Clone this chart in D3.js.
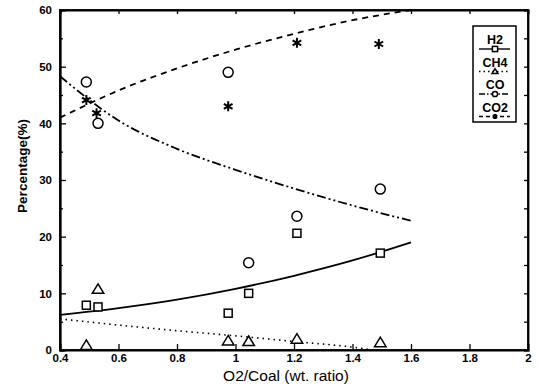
<!DOCTYPE html>
<html>
<head>
<meta charset="utf-8">
<script src="https://cdn.jsdelivr.net/npm/d3@7"></script>
<style>
  body { margin: 0; background: #fff; }
  svg { font-family: Arial, "Liberation Sans", sans-serif; }
</style>
</head>
<body>
<div id="chart"></div>
<script>
// measured points
var h2Pts  = [[0.49, 7.9], [0.53, 7.6], [0.975, 6.5], [1.045, 10.0], [1.21, 20.6], [1.495, 17.1]];
var ch4Pts = [[0.49, 0.8], [0.53, 10.7], [0.975, 1.6], [1.045, 1.5], [1.21, 1.9], [1.495, 1.3]];
var coPts  = [[0.49, 47.3], [0.53, 40.0], [0.975, 49.0], [1.045, 15.4], [1.21, 23.6], [1.495, 28.4]];
var co2Pts = [[0.49, 44.1], [0.525, 41.8], [0.975, 43.0], [1.21, 54.2], [1.49, 54.0]];

// fitted curves
var h2Fit  = [[0.4, 6.2], [0.6, 7.4], [0.8, 8.9], [1.0, 10.8], [1.2, 13.1], [1.4, 15.8], [1.6, 19.0]];
var ch4Fit = [[0.4, 5.5], [0.6, 4.4], [0.8, 3.4], [1.0, 2.5], [1.2, 1.5], [1.4, 0.5], [1.47, 0.0]];
var coFit  = [[0.4, 48.3], [0.6, 40.5], [0.8, 35.5], [1.0, 31.8], [1.2, 28.5], [1.4, 25.5], [1.6, 22.8]];
var co2Fit = [[0.4, 41.0], [0.6, 45.8], [0.8, 49.7], [1.0, 53.0], [1.2, 55.8], [1.4, 58.2], [1.6, 60.0]];

var xTicks = [0.4, 0.6, 0.8, 1, 1.2, 1.4, 1.6, 1.8, 2];
var yTicks = [0, 10, 20, 30, 40, 50, 60];
var legendNames = ["H2", "CH4", "CO", "CO2"];

var W = 539, H = 386;
var m = {left: 60, right: 11, top: 10, bottom: 36};

var x = d3.scaleLinear().domain([0.4, 2]).range([m.left, W - m.right]);
var y = d3.scaleLinear().domain([0, 60]).range([H - m.bottom, m.top]);

var svg = d3.select("#chart").append("svg")
    .attr("width", W)
    .attr("height", H);

// axes, ticks inward
svg.append("g")
    .attr("transform", "translate(0," + y(0) + ")")
    .call(d3.axisBottom(x).tickValues(xTicks).tickSize(-6).tickPadding(4)
      .tickFormat(function(d) { return d; }));
svg.append("g")
    .attr("transform", "translate(" + x(0.4) + ",0)")
    .call(d3.axisLeft(y).tickValues(yTicks).tickSize(-6).tickPadding(8));
svg.append("g")
    .attr("transform", "translate(" + x(0.4) + ",0)")
    .call(d3.axisLeft(y).tickValues(d3.range(5, 60, 10)).tickSize(-3).tickFormat(""));
svg.append("g")
    .attr("transform", "translate(" + x(2) + ",0)")
    .call(d3.axisRight(y).tickValues(d3.range(0, 61, 5)).tickSize(-4).tickFormat(""));
svg.append("g")
    .attr("transform", "translate(0," + y(60) + ")")
    .call(d3.axisTop(x).tickValues(xTicks).tickSize(-4).tickFormat(""));

svg.selectAll(".domain").attr("stroke-width", 1.8);
svg.selectAll(".tick line").attr("stroke-width", 1.3);
svg.selectAll(".tick text")
    .attr("font-size", 11.5)
    .attr("font-family", "Arial, 'Liberation Sans', sans-serif")
    .attr("font-weight", "bold")
    .attr("fill", "#000");

svg.append("rect")
    .attr("x", x(0.4)).attr("y", y(60))
    .attr("width", x(2) - x(0.4)).attr("height", y(0) - y(60))
    .attr("fill", "none").attr("stroke", "#000").attr("stroke-width", 1.8);

// labels
svg.append("text")
    .attr("x", 286).attr("y", 381)
    .attr("text-anchor", "middle").attr("font-size", 15.5)
    .text("O2/Coal (wt. ratio)");
svg.append("text")
    .attr("transform", "translate(27,166) rotate(-90)")
    .attr("text-anchor", "middle").attr("font-size", 13.5).attr("font-weight", "bold")
    .text("Percentage(%)");

// curves
var line = d3.line()
    .x(function(d) { return x(d[0]); })
    .y(function(d) { return y(d[1]); })
    .curve(d3.curveMonotoneX);

var plot = svg.append("g");
var styles = [
  {fit: h2Fit,  dash: null,            w: 1.8},
  {fit: ch4Fit, dash: "1.5,4",         w: 1.6},
  {fit: coFit,  dash: "9,3,2,3,2,3",   w: 1.8},
  {fit: co2Fit, dash: "6,5",           w: 1.8}
];
styles.forEach(function(s) {
  plot.append("path")
      .datum(s.fit)
      .attr("d", line)
      .attr("fill", "none")
      .attr("stroke", "#000")
      .attr("stroke-width", s.w)
      .attr("stroke-dasharray", s.dash);
});

// markers
function square(g, px, py, r) {
  g.append("rect").attr("x", px - r).attr("y", py - r).attr("width", 2 * r).attr("height", 2 * r)
    .attr("fill", "#fff").attr("stroke", "#000").attr("stroke-width", 1.5);
}
function tri(g, px, py, r) {
  g.append("path")
    .attr("d", "M" + px + "," + (py - r * 1.1) + "L" + (px + r * 1.15) + "," + (py + r * 0.8) + "L" + (px - r * 1.15) + "," + (py + r * 0.8) + "Z")
    .attr("fill", "#fff").attr("stroke", "#000").attr("stroke-width", 1.5);
}
function circ(g, px, py, r) {
  g.append("circle").attr("cx", px).attr("cy", py).attr("r", r)
    .attr("fill", "#fff").attr("stroke", "#000").attr("stroke-width", 1.5);
}
function star(g, px, py, r) {
  var d = "";
  for (var i = 0; i < 3; i++) {
    var a = Math.PI / 2 + i * Math.PI / 3;
    d += "M" + (px + r * Math.cos(a)) + "," + (py + r * Math.sin(a)) +
         "L" + (px - r * Math.cos(a)) + "," + (py - r * Math.sin(a));
  }
  g.append("path").attr("d", d).attr("stroke", "#000").attr("stroke-width", 2);
}

h2Pts.forEach(function(d) { square(plot, x(d[0]), y(d[1]), 4); });
ch4Pts.forEach(function(d) { tri(plot, x(d[0]), y(d[1]), 5); });
coPts.forEach(function(d) { circ(plot, x(d[0]), y(d[1]), 5); });
co2Pts.forEach(function(d) { star(plot, x(d[0]), y(d[1]), 5); });

// legend
var lg = svg.append("g").attr("transform", "translate(473,26)");
lg.append("rect").attr("width", 43).attr("height", 96)
  .attr("fill", "#fff").attr("stroke", "#000").attr("stroke-width", 1.5);
var marks = [square, tri, circ, star];
var legDash = [null, "1.5,3", "6,2,1.5,2", "4,3"];
legendNames.forEach(function(n, i) {
  var base = 18 + i * 22.5;
  lg.append("text").attr("x", 22).attr("y", base).attr("text-anchor", "middle")
    .attr("font-size", 12.5).attr("font-weight", "bold").text(n);
  lg.append("line").attr("x1", 6).attr("x2", 37).attr("y1", base + 5).attr("y2", base + 5)
    .attr("stroke", "#000").attr("stroke-width", 1.4)
    .attr("stroke-dasharray", legDash[i]);
  marks[i](lg, 22, base + 5, 2.6);
});
</script>
</body>
</html>
